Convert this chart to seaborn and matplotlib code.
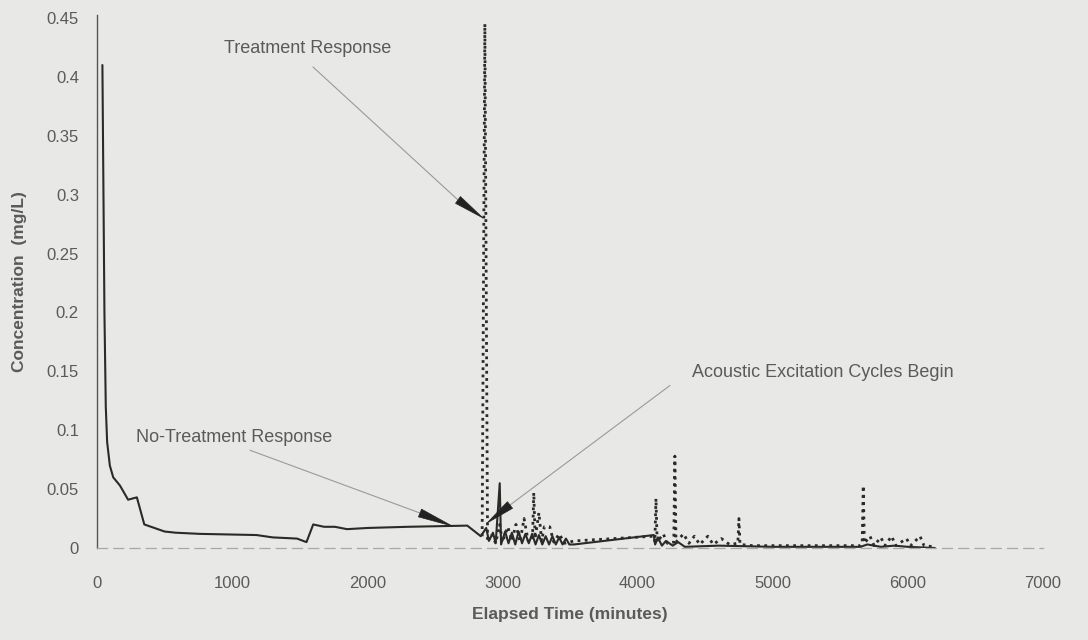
import matplotlib
matplotlib.use("Agg")
import matplotlib.pyplot as plt
import seaborn as sns
import pandas as pd

# ---- data ----
no_treat_time = [40, 55, 65, 75, 95, 120, 170, 230, 295, 350, 500, 580, 760, 1180, 1300,
                 1480, 1550, 1600, 1680, 1760, 1850, 2000, 2300, 2740, 2840,
                 2880, 2900, 2930, 2950, 2980, 2990, 3020, 3045, 3070, 3095, 3120,
                 3145, 3170, 3195, 3220, 3245, 3270, 3295, 3320, 3345, 3370, 3395,
                 3420, 3445, 3470, 3495, 3530, 4120, 4130, 4150, 4180, 4210, 4260,
                 4300, 4350, 4600, 5000, 5650, 5700, 5800, 5900, 6000, 6200]
no_treat_conc = [0.41, 0.20, 0.12, 0.09, 0.07, 0.060, 0.053, 0.041, 0.043, 0.020, 0.014,
                 0.013, 0.012, 0.011, 0.009, 0.008, 0.005, 0.020, 0.018, 0.018,
                 0.016, 0.017, 0.018, 0.019, 0.010,
                 0.017, 0.006, 0.013, 0.004, 0.055, 0.003, 0.014, 0.004, 0.013,
                 0.003, 0.014, 0.004, 0.012, 0.004, 0.012, 0.003, 0.011, 0.003,
                 0.010, 0.003, 0.010, 0.003, 0.009, 0.003, 0.008, 0.003,
                 0.003, 0.011, 0.003, 0.009, 0.002, 0.006, 0.002, 0.005, 0.001,
                 0.002, 0.001, 0.001, 0.003, 0.001, 0.002, 0.001, 0.0]

treat_time = [2850, 2870, 2890, 2920, 2950, 2980, 3000, 3040, 3070, 3100, 3130,
              3160, 3190, 3222, 3232, 3242, 3270, 3290, 3310, 3350, 3380, 3420,
              3460, 3530, 4120, 4128, 4136, 4145, 4190, 4220, 4268, 4276, 4284,
              4340, 4380, 4420, 4460, 4520, 4560, 4620, 4680, 4742, 4750, 4758,
              4850, 5650, 5662, 5670, 5678, 5720, 5750, 5800, 5830, 5880, 5910,
              5990, 6020, 6090, 6120, 6200]
treat_conc = [0.010, 0.445, 0.005, 0.012, 0.004, 0.020, 0.005, 0.018, 0.006,
              0.020, 0.005, 0.025, 0.006, 0.006, 0.047, 0.008, 0.030, 0.006,
              0.018, 0.018, 0.005, 0.012, 0.004, 0.006,
              0.010, 0.005, 0.042, 0.005, 0.012, 0.004, 0.005, 0.078, 0.005,
              0.012, 0.004, 0.010, 0.003, 0.010, 0.003, 0.008, 0.003, 0.004,
              0.025, 0.003, 0.002, 0.002, 0.004, 0.053, 0.004, 0.010, 0.002,
              0.009, 0.002, 0.010, 0.002, 0.008, 0.002, 0.010, 0.002, 0.001]

x_ticks = [0, 1000, 2000, 3000, 4000, 5000, 6000, 7000]
y_ticks = [0, 0.05, 0.1, 0.15, 0.2, 0.25, 0.3, 0.35, 0.4, 0.45]
y_tick_labels = ["0", "0.05", "0.1", "0.15", "0.2", "0.25", "0.3", "0.35", "0.4", "0.45"]

# ---- style ----
BG = "#e8e8e6"
TXT = "#5a5a5a"
sns.set_theme(style="white")
plt.rcParams["font.family"] = ["Liberation Sans", "DejaVu Sans"]
plt.rcParams["figure.facecolor"] = BG
plt.rcParams["axes.facecolor"] = BG

fig = plt.figure(figsize=(10.88, 6.4), dpi=100)
ax = fig.add_axes([97 / 1088, 92 / 640, 946 / 1088, 533 / 640])

df_nt = pd.DataFrame({"t": no_treat_time, "c": no_treat_conc})
df_tr = pd.DataFrame({"t": treat_time, "c": treat_conc})

sns.lineplot(data=df_nt, x="t", y="c", ax=ax, color="#2a2a2a", lw=1.5,
             sort=False, estimator=None)
sns.lineplot(data=df_tr, x="t", y="c", ax=ax, color="#2a2a2a", lw=2.0,
             sort=False, estimator=None, linestyle=(0, (1, 1.6)))

ax.set_xlim(0, 7000)
ax.set_ylim(0, 0.4525)
ax.set_xticks(x_ticks)
ax.set_yticks(y_ticks)
ax.set_yticklabels(y_tick_labels)

for s in ["top", "right"]:
    ax.spines[s].set_visible(False)
ax.spines["left"].set_color("#555555")
ax.spines["left"].set_linewidth(1.0)
ax.spines["bottom"].set_color("#a8a8a8")
ax.spines["bottom"].set_linewidth(0.9)
ax.spines["bottom"].set_linestyle((0, (8, 5)))

ax.tick_params(axis="x", direction="inout", length=12, width=0.9, color="#777777",
               pad=14, labelsize=12, labelcolor=TXT)
ax.tick_params(axis="y", length=0, pad=13, labelsize=12, labelcolor=TXT)

ax.set_xlabel("Elapsed Time (minutes)", fontsize=12.5, fontweight="bold",
              color=TXT, labelpad=12)
ax.set_ylabel("Concentration  (mg/L)", fontsize=12.5, fontweight="bold",
              color=TXT, labelpad=14)

# ---- annotations ----
LINE = dict(arrowstyle="-", color="#9a9a9a", lw=0.8, shrinkA=0, shrinkB=0)
WEDGE = dict(arrowstyle="wedge,tail_width=0.6,shrink_factor=0.5",
             color="#222222", lw=0.5, shrinkA=0, shrinkB=0, mutation_scale=10)

ax.text(1555, 0.424, "Treatment Response", ha="center", va="center",
        fontsize=13, color=TXT)
ax.annotate("", xy=(2671, 0.2955), xytext=(1598, 0.4084), arrowprops=LINE)
ax.annotate("", xy=(2856, 0.2802), xytext=(2671, 0.2955), arrowprops=WEDGE)

ax.text(1014, 0.0934, "No-Treatment Response", ha="center", va="center",
        fontsize=13, color=TXT)
ax.annotate("", xy=(2390, 0.0297), xytext=(1132, 0.083), arrowprops=LINE)
ax.annotate("", xy=(2627, 0.0187), xytext=(2390, 0.0297), arrowprops=WEDGE)

ax.text(5372, 0.1494, "Acoustic Excitation Cycles Begin", ha="center",
        va="center", fontsize=13, color=TXT)
ax.annotate("", xy=(3056, 0.0365), xytext=(4240, 0.138), arrowprops=LINE)
ax.annotate("", xy=(2886, 0.0212), xytext=(3056, 0.0365), arrowprops=WEDGE)

fig.savefig("out.png", dpi=100, facecolor=BG)
